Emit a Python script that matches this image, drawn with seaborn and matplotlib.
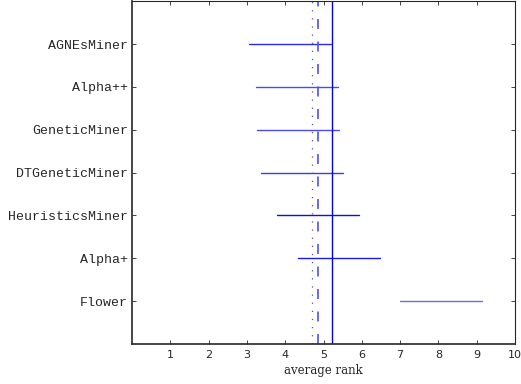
import pandas as pd
import numpy as np
import matplotlib
matplotlib.use("Agg")
import matplotlib.pyplot as plt
import seaborn as sns

# methods from bottom to top
methods = ["Flower", "Alpha+", "HeuristicsMiner", "DTGeneticMiner",
           "GeneticMiner", "Alpha++", "AGNEsMiner"]
low = [7.0, 4.33, 3.79, 3.37, 3.26, 3.24, 3.05]
high = [9.15, 6.47, 5.93, 5.50, 5.40, 5.38, 5.20]
line_colors = ["#6868ff", "#1a1aee", "#1010dd", "#3a3af5", "#4a4af8", "#4a4af8", "#2a2af0"]

solid_ref = 5.21
dashed_ref = 4.86
dotted_ref = 4.69


def main():
    sns.set_style("ticks")
    plt.rcParams["font.family"] = ["DejaVu Sans"]

    rows = []
    for i, m in enumerate(methods):
        rows.append({"method": m, "pos": i + 1, "rank": low[i]})
        rows.append({"method": m, "pos": i + 1, "rank": high[i]})
    df = pd.DataFrame(rows)

    fig = plt.figure(figsize=(5.21, 3.84), dpi=100)
    ax = fig.add_axes([0.2534, 0.104, 0.7351, 0.893])

    sns.lineplot(data=df, x="rank", y="pos", hue="method", units="method",
                 estimator=None, sort=False, palette=dict(zip(methods, line_colors)),
                 linewidth=1.0, legend=False, ax=ax)

    ax.axvline(solid_ref, color="#0000ee", linewidth=1.0)
    ax.axvline(dashed_ref, color="#5050f0", linewidth=1.2, linestyle=(0, (6, 7.5)))
    ax.axvline(dotted_ref, color="#5050c0", linewidth=0.9, linestyle=(0, (1, 5.5)))

    ax.set_xlim(0, 10)
    ax.set_ylim(0, 8)
    ax.set_xticks(range(1, 11))
    ax.set_xticklabels([str(i) for i in range(1, 11)], fontsize=8)
    ax.set_yticks(range(1, len(methods) + 1))
    ax.set_yticklabels(methods, fontsize=9.5, family="Liberation Mono")
    ax.set_xlabel("average rank", fontsize=8.5, family="DejaVu Serif", labelpad=3)
    ax.set_ylabel("")

    ax.tick_params(direction="in", length=3, width=0.6, top=True, right=True, pad=4)
    ax.tick_params(axis="y", pad=3)
    for s in ["left", "bottom"]:
        ax.spines[s].set_linewidth(1.2)
    for s in ["top", "right"]:
        ax.spines[s].set_linewidth(0.8)
        ax.spines[s].set_visible(True)

    fig.savefig("out.png", dpi=100)
    plt.close(fig)


if __name__ == "__main__":
    main()
